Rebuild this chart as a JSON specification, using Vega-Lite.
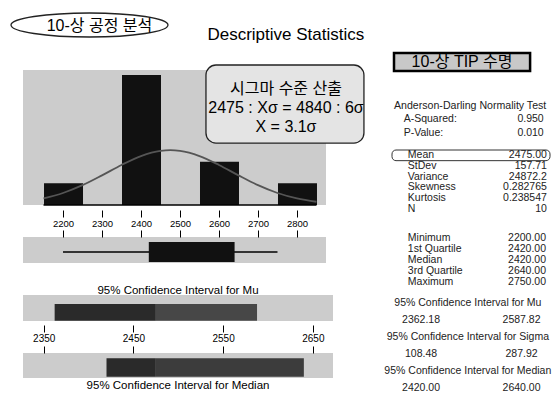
{
  "$schema": "https://vega.github.io/schema/vega-lite/v6.json",
  "padding": {"left": 8, "top": 0, "right": 0, "bottom": 0},
  "spacing": 19,
  "datasets": {
    "one": [{}],
    "tip": [
      {"life": 2200}, {"life": 2420}, {"life": 2420}, {"life": 2420}, {"life": 2420},
      {"life": 2420}, {"life": 2420}, {"life": 2640}, {"life": 2640}, {"life": 2750}
    ],
    "curve": [
      {"x": 2150, "fit": 0.302}, {"x": 2200, "fit": 0.553}, {"x": 2250, "fit": 0.914},
      {"x": 2300, "fit": 1.367}, {"x": 2350, "fit": 1.848}, {"x": 2400, "fit": 2.259},
      {"x": 2450, "fit": 2.498}, {"x": 2475, "fit": 2.530}, {"x": 2500, "fit": 2.498},
      {"x": 2550, "fit": 2.259}, {"x": 2600, "fit": 1.848}, {"x": 2650, "fit": 1.367},
      {"x": 2700, "fit": 0.914}, {"x": 2750, "fit": 0.553}, {"x": 2800, "fit": 0.302},
      {"x": 2850, "fit": 0.150}
    ],
    "box": [{"min": 2200, "q1": 2420, "median": 2420, "q3": 2640, "max": 2750}],
    "ci": [
      {"ci": "Mu", "lower": 2362.18, "center": 2475, "upper": 2587.82},
      {"ci": "Median", "lower": 2420, "center": 2475, "upper": 2640}
    ],
    "stats": [
      {"sec": "A", "key": "ad", "kind": "head", "label": "Anderson-Darling Normality Test", "value": ""},
      {"sec": "A", "key": "a2", "kind": "row", "label": "A-Squared:", "value": "0.950"},
      {"sec": "A", "key": "pv", "kind": "row", "label": "P-Value:", "value": "0.010"},
      {"sec": "B", "key": "mean", "kind": "row", "label": "Mean", "value": "2475.00"},
      {"sec": "B", "key": "sd", "kind": "row", "label": "StDev", "value": "157.71"},
      {"sec": "B", "key": "var", "kind": "row", "label": "Variance", "value": "24872.2"},
      {"sec": "B", "key": "skew", "kind": "row", "label": "Skewness", "value": "0.282765"},
      {"sec": "B", "key": "kurt", "kind": "row", "label": "Kurtosis", "value": "0.238547"},
      {"sec": "B", "key": "n", "kind": "row", "label": "N", "value": "10"},
      {"sec": "C", "key": "min", "kind": "row", "label": "Minimum", "value": "2200.00"},
      {"sec": "C", "key": "q1", "kind": "row", "label": "1st Quartile", "value": "2420.00"},
      {"sec": "C", "key": "med", "kind": "row", "label": "Median", "value": "2420.00"},
      {"sec": "C", "key": "q3", "kind": "row", "label": "3rd Quartile", "value": "2640.00"},
      {"sec": "C", "key": "max", "kind": "row", "label": "Maximum", "value": "2750.00"},
      {"sec": "D", "key": "cmu", "kind": "head", "label": "95% Confidence Interval for Mu", "value": ""},
      {"sec": "D", "key": "vmu", "kind": "pair", "label": "2362.18", "value": "2587.82"},
      {"sec": "D", "key": "csig", "kind": "head", "label": "95% Confidence Interval for Sigma", "value": ""},
      {"sec": "D", "key": "vsig", "kind": "pair", "label": "108.48", "value": "287.92"},
      {"sec": "D", "key": "cmed", "kind": "head", "label": "95% Confidence Interval for Median", "value": ""},
      {"sec": "D", "key": "vmed", "kind": "pair", "label": "2420.00", "value": "2640.00"}
    ]
  },
  "hconcat": [
    {
      "bounds": "flush",
      "spacing": 32,
      "vconcat": [
        {
          "width": 310, "height": 38,
          "data": {"name": "one"},
          "layer": [
            {
              "mark": {"type": "point", "shape": "M-1,0C-1,-0.0845,-0.5523,-0.153,0,-0.153C0.5523,-0.153,1,-0.0845,1,0C1,0.0845,0.5523,0.153,0,0.153C-0.5523,0.153,-1,0.0845,-1,0Z", "size": 24649, "filled": false, "stroke": "#222", "strokeWidth": 1.3, "opacity": 1},
              "encoding": {
                "x": {"datum": 0.2145, "type": "quantitative", "scale": {"domain": [0, 1], "nice": false, "zero": false}, "axis": null},
                "y": {"datum": 0.342, "type": "quantitative", "scale": {"domain": [0, 1], "nice": false, "zero": false}, "axis": null}
              }
            },
            {
              "mark": {"type": "text", "fontSize": 16, "align": "center", "baseline": "middle", "color": "#000"},
              "encoding": {
                "x": {"datum": 0.2468, "type": "quantitative", "scale": {"domain": [0, 1], "nice": false, "zero": false}, "axis": null},
                "y": {"datum": 0.303, "type": "quantitative", "scale": {"domain": [0, 1], "nice": false, "zero": false}, "axis": null},
                "text": {"value": "10-상 공정 분석"}
              }
            },
            {
              "mark": {"type": "text", "fontSize": 17, "align": "left", "baseline": "middle", "color": "#000"},
              "encoding": {
                "x": {"datum": 0.595, "type": "quantitative", "scale": {"domain": [0, 1], "nice": false, "zero": false}, "axis": null},
                "y": {"datum": 0.08, "type": "quantitative", "scale": {"domain": [0, 1], "nice": false, "zero": false}, "axis": null},
                "text": {"value": "Descriptive Statistics"}
              }
            }
          ]
        },
        {
          "width": 303, "height": 135,
          "view": {"fill": "#cccccc", "stroke": null},
          "layer": [
            {
              "data": {"name": "tip"},
              "mark": {"type": "bar", "color": "#111", "binSpacing": 0},
              "encoding": {
                "x": {"field": "life", "type": "quantitative", "bin": {"step": 100, "extent": [2150, 2850], "nice": false},
                  "scale": {"domain": [2097.4, 2874.4], "nice": false, "zero": false},
                  "axis": {"values": [2200, 2300, 2400, 2500, 2600, 2700, 2800], "format": "d", "title": null, "tickSize": 7, "offset": 5, "domain": false, "grid": false, "labelFontSize": 9.5, "labelPadding": 1, "labelColor": "#000", "tickColor": "#000", "labelFlush": false}},
                "y": {"aggregate": "count", "type": "quantitative", "scale": {"domain": [0, 6.23], "nice": false}, "axis": null}
              }
            },
            {
              "data": {"name": "one"},
              "mark": {"type": "rule", "color": "#000", "strokeWidth": 1.5},
              "encoding": {
                "x": {"datum": 2150, "type": "quantitative"},
                "x2": {"datum": 2850},
                "y": {"datum": 0, "type": "quantitative", "axis": null}
              }
            },
            {
              "data": {"name": "curve"},
              "mark": {"type": "line", "color": "#555", "strokeWidth": 1.8, "interpolate": "monotone"},
              "encoding": {
                "x": {"field": "x", "type": "quantitative"},
                "y": {"field": "fit", "type": "quantitative", "axis": null}
              }
            },
            {
              "data": {"name": "one"},
              "mark": {"type": "rect", "fill": "#e4e4e4", "stroke": "#222", "strokeWidth": 1.3, "cornerRadius": 10},
              "encoding": {
                "x": {"datum": 2566.6, "type": "quantitative"},
                "x2": {"datum": 2971.7},
                "y": {"datum": 6.46, "type": "quantitative", "axis": null},
                "y2": {"datum": 2.86}
              }
            },
            {
              "data": {"name": "one"},
              "mark": {"type": "text", "fontSize": 16, "align": "center", "baseline": "middle", "lineHeight": 19, "color": "#000"},
              "encoding": {
                "x": {"datum": 2771.8, "type": "quantitative"},
                "y": {"datum": 5.35, "type": "quantitative", "axis": null},
                "text": {"value": ["시그마 수준 산출", "2475 : Xσ = 4840 : 6σ", "X = 3.1σ"]}
              }
            }
          ]
        },
        {
          "width": 303, "height": 26,
          "view": {"fill": "#cccccc", "stroke": null},
          "data": {"name": "box"},
          "layer": [
            {
              "mark": {"type": "rule", "color": "#000", "strokeWidth": 1.3},
              "encoding": {
                "x": {"field": "min", "type": "quantitative", "scale": {"domain": [2097.4, 2874.4], "nice": false, "zero": false},
                  "axis": {"values": [2200, 2300, 2400, 2500, 2600, 2700, 2800], "orient": "top", "labels": false, "title": null, "tickSize": 7, "offset": 0, "domain": false, "grid": false, "tickColor": "#000"}},
                "x2": {"field": "max"},
                "y": {"datum": 0.423, "type": "quantitative", "scale": {"domain": [0, 1], "nice": false, "zero": false}, "axis": null}
              }
            },
            {
              "mark": {"type": "rect", "color": "#111"},
              "encoding": {
                "x": {"field": "q1", "type": "quantitative"},
                "x2": {"field": "q3"},
                "y": {"datum": 0.808, "type": "quantitative", "axis": null},
                "y2": {"datum": 0.038}
              }
            }
          ]
        },
        {
          "width": 310, "height": 26,
          "view": {"fill": "#cccccc", "stroke": null},
          "title": {"text": "95% Confidence Interval for Mu", "fontSize": 11.5, "fontWeight": "normal", "color": "#000", "offset": -1},
          "data": {"name": "ci"},
          "transform": [{"filter": "datum.ci === 'Mu'"}],
          "layer": [
            {
              "mark": {"type": "rect", "color": "#2a2a2a"},
              "encoding": {
                "x": {"field": "lower", "type": "quantitative", "scale": {"domain": [2326.9, 2672.5], "nice": false, "zero": false},
                  "axis": {"values": [2350, 2450, 2550, 2650], "format": "d", "title": null, "tickSize": 7, "offset": 4, "domain": false, "grid": false, "labelFontSize": 10, "labelPadding": 1, "labelColor": "#000", "tickColor": "#000", "labelFlush": false}},
                "x2": {"field": "center"},
                "y": {"datum": 0.654, "type": "quantitative", "scale": {"domain": [0, 1], "nice": false, "zero": false}, "axis": null},
                "y2": {"datum": 0.01}
              }
            },
            {
              "mark": {"type": "rect", "color": "#474747"},
              "encoding": {
                "x": {"field": "center", "type": "quantitative"},
                "x2": {"field": "upper"},
                "y": {"datum": 0.654, "type": "quantitative", "axis": null},
                "y2": {"datum": 0.01}
              }
            }
          ]
        },
        {
          "width": 310, "height": 25,
          "view": {"fill": "#cccccc", "stroke": null},
          "title": {"text": "95% Confidence Interval for Median", "orient": "bottom", "fontSize": 11.5, "fontWeight": "normal", "color": "#000", "offset": 2},
          "data": {"name": "ci"},
          "transform": [{"filter": "datum.ci === 'Median'"}],
          "layer": [
            {
              "mark": {"type": "rect", "color": "#2a2a2a"},
              "encoding": {
                "x": {"field": "lower", "type": "quantitative", "scale": {"domain": [2326.9, 2672.5], "nice": false, "zero": false},
                  "axis": {"values": [2350, 2450, 2550, 2650], "orient": "top", "labels": false, "title": null, "tickSize": 7, "offset": 0, "domain": false, "grid": false, "tickColor": "#000"}},
                "x2": {"field": "center"},
                "y": {"datum": 0.788, "type": "quantitative", "scale": {"domain": [0, 1], "nice": false, "zero": false}, "axis": null},
                "y2": {"datum": 0.052}
              }
            },
            {
              "mark": {"type": "rect", "color": "#3c3c3c"},
              "encoding": {
                "x": {"field": "center", "type": "quantitative"},
                "x2": {"field": "upper"},
                "y": {"datum": 0.788, "type": "quantitative", "axis": null},
                "y2": {"datum": 0.052}
              }
            }
          ]
        }
      ]
    },
    {
      "bounds": "flush",
      "spacing": 0,
      "vconcat": [
        {
          "width": 158, "height": 71,
          "data": {"name": "one"},
          "layer": [
            {
              "mark": {"type": "rect", "fill": "#c8c8c8", "stroke": "#000", "strokeWidth": 2.5},
              "encoding": {
                "x": {"datum": 0.0127, "type": "quantitative", "scale": {"domain": [0, 1], "nice": false, "zero": false}, "axis": null},
                "x2": {"datum": 0.874},
                "y": {"datum": 0.2535, "type": "quantitative", "scale": {"domain": [0, 1], "nice": false, "zero": false}, "axis": null},
                "y2": {"datum": 0}
              }
            },
            {
              "mark": {"type": "text", "fontSize": 16, "align": "center", "baseline": "middle", "color": "#000"},
              "encoding": {
                "x": {"datum": 0.443, "type": "quantitative", "axis": null},
                "y": {"datum": 0.127, "type": "quantitative", "axis": null},
                "text": {"value": "10-상 TIP 수명"}
              }
            }
          ]
        },
        {
          "width": 158, "height": 69,
          "data": {"name": "stats"},
          "transform": [{"filter": "datum.sec === 'A'"}],
          "encoding": {
            "y": {"field": "key", "type": "nominal", "sort": null, "scale": {"type": "band", "domain": ["ad", "a2", "pv"], "paddingInner": 0, "paddingOuter": 1.1538, "align": 1}, "axis": null}
          },
          "layer": [
            {
              "transform": [{"filter": "datum.kind === 'head'"}],
              "mark": {"type": "text", "align": "left", "baseline": "middle", "fontSize": 10.6, "color": "#222"},
              "encoding": {"x": {"datum": 0.0127, "type": "quantitative", "scale": {"domain": [0, 1], "nice": false, "zero": false}, "axis": null}, "text": {"field": "label"}}
            },
            {
              "transform": [{"filter": "datum.kind === 'row'"}],
              "mark": {"type": "text", "align": "left", "baseline": "middle", "fontSize": 10.5, "color": "#222"},
              "encoding": {"x": {"datum": 0.074, "type": "quantitative", "scale": {"domain": [0, 1], "nice": false, "zero": false}, "axis": null}, "text": {"field": "label"}}
            },
            {
              "transform": [{"filter": "datum.kind === 'row'"}],
              "mark": {"type": "text", "align": "right", "baseline": "middle", "fontSize": 10.5, "color": "#222"},
              "encoding": {"x": {"datum": 0.96, "type": "quantitative", "scale": {"domain": [0, 1], "nice": false, "zero": false}, "axis": null}, "text": {"field": "value"}}
            }
          ]
        },
        {
          "width": 158, "height": 74,
          "data": {"name": "stats"},
          "transform": [{"filter": "datum.sec === 'B'"}],
          "encoding": {
            "y": {"field": "key", "type": "nominal", "sort": null, "scale": {"type": "band", "domain": ["mean", "sd", "var", "skew", "kurt", "n"], "paddingInner": 0, "paddingOuter": 0.46875, "align": 1}, "axis": null}
          },
          "layer": [
            {
              "transform": [{"filter": "datum.key === 'mean'"}],
              "mark": {"type": "rect", "fillOpacity": 0, "stroke": "#333", "strokeWidth": 1, "cornerRadius": 4},
              "encoding": {
                "x": {"datum": 0.0, "type": "quantitative", "scale": {"domain": [0, 1], "nice": false, "zero": false}, "axis": null},
                "x2": {"datum": 1.0}
              }
            },
            {
              "mark": {"type": "text", "align": "left", "baseline": "middle", "fontSize": 10.5, "color": "#222"},
              "encoding": {"x": {"datum": 0.1, "type": "quantitative", "scale": {"domain": [0, 1], "nice": false, "zero": false}, "axis": null}, "text": {"field": "label"}}
            },
            {
              "mark": {"type": "text", "align": "right", "baseline": "middle", "fontSize": 10.5, "color": "#222"},
              "encoding": {"x": {"datum": 0.98, "type": "quantitative", "scale": {"domain": [0, 1], "nice": false, "zero": false}, "axis": null}, "text": {"field": "value"}}
            }
          ]
        },
        {
          "width": 158, "height": 73,
          "data": {"name": "stats"},
          "transform": [{"filter": "datum.sec === 'C'"}],
          "encoding": {
            "y": {"field": "key", "type": "nominal", "sort": null, "scale": {"type": "band", "domain": ["min", "q1", "med", "q3", "max"], "paddingInner": 0, "paddingOuter": 0.8796, "align": 1}, "axis": null}
          },
          "layer": [
            {
              "mark": {"type": "text", "align": "left", "baseline": "middle", "fontSize": 10.5, "color": "#222"},
              "encoding": {"x": {"datum": 0.1, "type": "quantitative", "scale": {"domain": [0, 1], "nice": false, "zero": false}, "axis": null}, "text": {"field": "label"}}
            },
            {
              "mark": {"type": "text", "align": "right", "baseline": "middle", "fontSize": 10.5, "color": "#222"},
              "encoding": {"x": {"datum": 0.975, "type": "quantitative", "scale": {"domain": [0, 1], "nice": false, "zero": false}, "axis": null}, "text": {"field": "value"}}
            }
          ]
        },
        {
          "width": 158, "height": 109,
          "data": {"name": "stats"},
          "transform": [{"filter": "datum.sec === 'D'"}],
          "encoding": {
            "y": {"field": "key", "type": "nominal", "sort": null, "scale": {"type": "band", "domain": ["cmu", "vmu", "csig", "vsig", "cmed", "vmed"], "paddingInner": 0, "paddingOuter": 0.2059, "align": 1}, "axis": null}
          },
          "layer": [
            {
              "transform": [{"filter": "datum.kind === 'head'"}],
              "mark": {"type": "text", "align": "center", "baseline": "middle", "fontSize": 10.5, "color": "#222"},
              "encoding": {"x": {"datum": 0.48, "type": "quantitative", "scale": {"domain": [0, 1], "nice": false, "zero": false}, "axis": null}, "text": {"field": "label"}}
            },
            {
              "transform": [{"filter": "datum.kind === 'pair'"}],
              "mark": {"type": "text", "align": "center", "baseline": "middle", "fontSize": 10.5, "color": "#222"},
              "encoding": {"x": {"datum": 0.184, "type": "quantitative", "scale": {"domain": [0, 1], "nice": false, "zero": false}, "axis": null}, "text": {"field": "label"}}
            },
            {
              "transform": [{"filter": "datum.kind === 'pair'"}],
              "mark": {"type": "text", "align": "center", "baseline": "middle", "fontSize": 10.5, "color": "#222"},
              "encoding": {"x": {"datum": 0.82, "type": "quantitative", "scale": {"domain": [0, 1], "nice": false, "zero": false}, "axis": null}, "text": {"field": "value"}}
            }
          ]
        }
      ]
    }
  ],
  "config": {
    "view": {"stroke": null},
    "font": "Liberation Sans, Noto Sans CJK KR",
    "axis": {"domain": false, "grid": false, "labelColor": "#000", "tickColor": "#000"},
    "title": {"fontWeight": "normal", "color": "#000"}
  }
}
